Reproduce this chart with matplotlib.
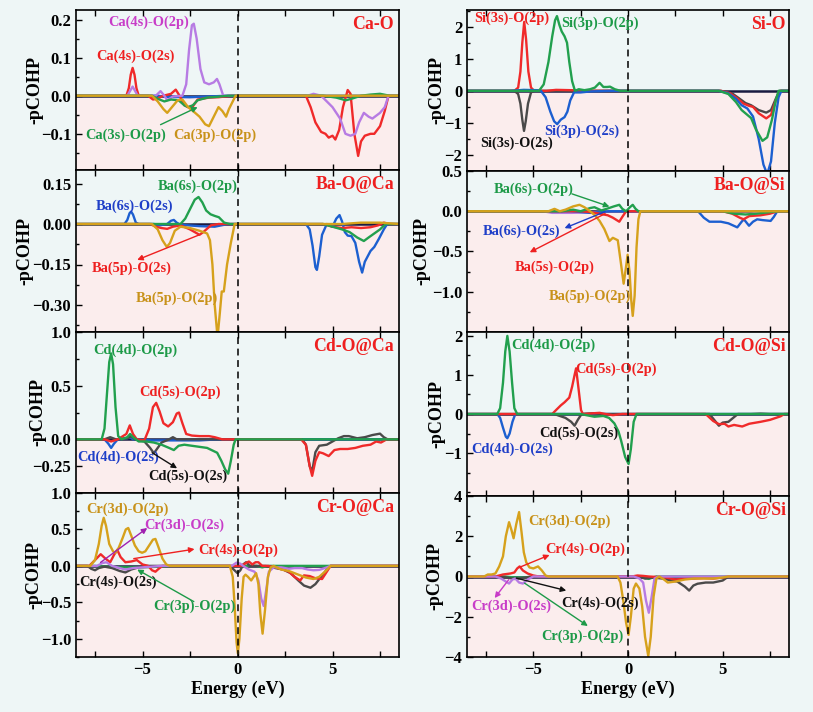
import matplotlib
matplotlib.use('Agg')
import matplotlib.pyplot as plt
from matplotlib.ticker import FixedLocator, FixedFormatter, MultipleLocator

plt.rcParams['font.family'] = ['Liberation Serif', 'DejaVu Serif']
plt.rcParams['font.weight'] = 'bold'
plt.rcParams['axes.unicode_minus'] = True

# ---------------- DATA (energy eV, -pCOHP) ----------------
# Ca-O
caO_4s_2s = [(-8.5,0),(-5.85,0),(-5.72,0.02),(-5.62,0.055),(-5.52,0.073),(-5.42,0.055),(-5.32,0.02),(-5.2,0),(-4.7,0),(-4.45,-0.01),(-4.25,-0.008),(-3.9,0),(-3.5,0.005),(-3.25,0.016),(-3.05,0),(-2.8,-0.025),(-2.6,-0.03),(-2.35,-0.028),(-2.1,-0.01),(-1.5,-0.005),(-1.0,-0.004),(-0.3,0),(3.6,0),(3.85,-0.03),(4.1,-0.07),(4.4,-0.095),(4.63,-0.1),(4.8,-0.11),(5.0,-0.105),(5.15,-0.115),(5.35,-0.09),(5.55,-0.03),(5.8,0.015),(5.95,0.005),(6.15,-0.1),(6.35,-0.158),(6.5,-0.12),(6.7,-0.105),(7.0,-0.1),(7.2,-0.1),(7.5,-0.08),(7.75,-0.04),(7.95,0),(8.5,0)]
caO_4s_2p = [(-8.5,0),(-5.8,0),(-5.52,0.024),(-5.25,0),(-4.3,0),(-4.05,0.012),(-3.85,0),(-3.7,-0.012),(-3.4,-0.002),(-2.9,0),(-2.7,0.03),(-2.55,0.12),(-2.4,0.185),(-2.3,0.189),(-2.15,0.15),(-1.95,0.07),(-1.75,0.035),(-1.5,0.03),(-1.25,0.035),(-1.08,0.044),(-0.95,0.03),(-0.75,0),(3.7,0),(4.0,0.005),(4.4,0),(5.0,-0.03),(5.4,-0.06),(5.68,-0.1),(5.95,-0.105),(6.2,-0.1),(6.4,-0.07),(6.65,-0.045),(6.9,-0.055),(7.1,-0.06),(7.5,-0.045),(7.75,-0.03),(7.95,0),(8.5,0)]
caO_3p_2p = [(-8.5,0),(-4.5,0),(-4.2,-0.015),(-3.9,-0.035),(-3.7,-0.045),(-3.45,-0.03),(-3.15,-0.012),(-2.9,-0.01),(-2.6,-0.03),(-2.3,-0.042),(-2.0,-0.055),(-1.7,-0.075),(-1.5,-0.08),(-1.3,-0.06),(-1.0,-0.03),(-0.8,-0.04),(-0.6,-0.055),(-0.45,-0.035),(-0.1,0),(8.5,0)]
caO_3s_2p = [(-8.5,0),(-4.5,0),(-4.2,-0.008),(-3.85,-0.015),(-3.5,-0.01),(-3.1,-0.012),(-2.8,-0.025),(-2.6,-0.03),(-2.35,-0.025),(-2.1,-0.012),(-1.6,-0.005),(-1.1,-0.003),(-0.5,0),(4.5,0),(5.2,-0.005),(5.7,-0.012),(6.0,-0.008),(6.5,0),(7.0,0.003),(7.5,0.005),(8.0,0),(8.5,0)]
caO_3s_2s = [(-8.5,0),(-4.2,0),(-3.8,-0.003),(-2.5,-0.004),(-1.5,-0.002),(-0.5,0),(8.5,0)]

# Si-O
siO_3s_2p = [(-8.5,0),(-6.0,0),(-5.8,0.1),(-5.68,0.6),(-5.58,1.5),(-5.48,2.15),(-5.38,1.6),(-5.26,0.6),(-5.12,0.1),(-4.95,0),(-4.3,0),(-3.8,0.03),(-3.0,0.02),(-2.5,0),(4.9,0),(5.4,-0.08),(5.8,-0.25),(6.1,-0.4),(6.4,-0.47),(6.6,-0.5),(6.9,-0.7),(7.3,-0.86),(7.55,-0.75),(7.8,-0.3),(8.05,0),(8.5,0)]
siO_3s_2s = [(-8.5,0),(-6.0,0),(-5.8,-0.1),(-5.68,-0.4),(-5.58,-0.9),(-5.49,-1.25),(-5.4,-0.95),(-5.28,-0.4),(-5.12,-0.05),(-4.95,0),(4.9,0),(5.5,-0.08),(5.9,-0.25),(6.2,-0.38),(6.5,-0.45),(6.9,-0.6),(7.3,-0.68),(7.55,-0.6),(7.8,-0.25),(8.0,0),(8.5,0)]
siO_3p_2p = [(-8.5,0),(-4.7,0),(-4.45,0.2),(-4.2,0.9),(-4.0,1.7),(-3.85,2.2),(-3.75,2.33),(-3.62,2.05),(-3.5,1.85),(-3.35,1.7),(-3.22,1.5),(-3.1,0.9),(-2.95,0.3),(-2.8,0),(-2.6,0.05),(-2.3,0.02),(-2.0,0.05),(-1.75,0.1),(-1.5,0.25),(-1.3,0.12),(-1.1,0.12),(-0.95,0.13),(-0.7,0.05),(-0.4,0),(4.8,0),(5.3,-0.1),(5.7,-0.35),(6.0,-0.6),(6.3,-0.75),(6.5,-0.85),(6.75,-1.2),(7.1,-1.56),(7.35,-1.45),(7.6,-0.9),(7.8,-0.3),(7.95,0),(8.5,0)]
siO_3p_2s = [(-8.5,0),(-6.2,0),(-5.5,0.03),(-4.8,0.02),(-4.6,0),(-4.35,-0.2),(-4.1,-0.65),(-3.9,-0.95),(-3.74,-1.04),(-3.55,-0.9),(-3.35,-0.82),(-3.2,-0.65),(-3.05,-0.3),(-2.85,-0.05),(-2.5,-0.05),(-2.0,-0.02),(-1.0,0),(4.8,0),(5.3,-0.08),(5.7,-0.25),(6.0,-0.45),(6.3,-0.55),(6.6,-0.8),(6.9,-1.5),(7.15,-2.3),(7.35,-2.6),(7.55,-2.2),(7.75,-1.0),(7.95,-0.2),(8.1,0),(8.5,0)]

# Ba-O@Ca
baCa_6s_2s = [(-8.5,0),(-5.95,0),(-5.8,0.015),(-5.68,0.04),(-5.6,0.046),(-5.5,0.035),(-5.35,0.005),(-5.2,0),(-4.4,0),(-4.1,-0.005),(-3.7,0),(-3.5,0.012),(-3.35,0.015),(-3.2,0.005),(-3.0,-0.003),(-2.0,-0.008),(-1.2,-0.01),(-0.5,0),(3.6,0),(3.8,-0.02),(3.95,-0.08),(4.1,-0.16),(4.18,-0.17),(4.3,-0.12),(4.45,-0.04),(4.7,0),(5.0,-0.01),(5.2,0.02),(5.37,0.033),(5.5,0.01),(5.65,-0.03),(5.8,-0.043),(6.0,-0.045),(6.2,-0.07),(6.4,-0.14),(6.56,-0.18),(6.7,-0.14),(7.0,-0.1),(7.2,-0.085),(7.44,-0.055),(7.7,-0.02),(7.88,0),(8.5,0)]
baCa_6s_2p = [(-8.5,0),(-3.0,0),(-2.75,0.02),(-2.5,0.055),(-2.25,0.09),(-2.05,0.1),(-1.85,0.08),(-1.65,0.05),(-1.42,0.036),(-1.2,0.03),(-0.98,0.025),(-0.7,0.005),(-0.4,0),(4.5,0),(5.0,-0.01),(5.5,-0.02),(5.9,-0.03),(6.3,-0.05),(6.65,-0.063),(6.9,-0.05),(7.2,-0.035),(7.5,-0.02),(7.8,0),(8.5,0)]
baCa_5p_2s = [(-8.5,0),(-4.6,0),(-4.3,-0.01),(-4.0,-0.015),(-3.7,-0.018),(-3.4,-0.01),(-3.0,-0.005),(-2.5,-0.02),(-2.0,-0.04),(-1.8,-0.03),(-1.4,-0.005),(-1.0,0),(4.5,0),(5.0,-0.01),(5.5,-0.015),(6.0,-0.012),(6.5,-0.015),(7.0,-0.012),(7.4,-0.005),(7.7,0.005),(8.0,0),(8.5,0)]
baCa_5p_2p = [(-8.5,0),(-4.5,0),(-4.2,-0.02),(-3.95,-0.06),(-3.72,-0.085),(-3.55,-0.07),(-3.3,-0.025),(-3.0,-0.01),(-2.5,-0.015),(-2.0,-0.025),(-1.6,-0.035),(-1.45,-0.06),(-1.32,-0.15),(-1.2,-0.3),(-1.05,-0.42),(-0.93,-0.33),(-0.83,-0.25),(-0.72,-0.25),(-0.55,-0.15),(-0.35,-0.07),(-0.15,0),(5.5,0),(6.5,0.005),(7.5,0.005),(8.5,0)]

# Ba-O@Si
baSi_5p_2p = [(-8.5,0),(-4.2,0),(-3.88,0.03),(-3.6,0.0),(-3.3,0.02),(-2.9,0.06),(-2.56,0.08),(-2.3,0.05),(-2.0,0.0),(-1.75,-0.05),(-1.5,-0.12),(-1.25,-0.22),(-0.98,-0.37),(-0.8,-0.33),(-0.54,-0.36),(-0.4,-0.6),(-0.23,-0.9),(-0.12,-0.72),(-0.02,-0.54),(0.08,-0.75),(0.17,-1.1),(0.25,-1.3),(0.35,-1.05),(0.45,-0.45),(0.55,-0.1),(0.65,0),(6.0,0),(8.5,0)]
baSi_6s_2p = [(-8.5,0),(-3.5,0),(-2.9,0.02),(-2.5,0.0),(-2.0,0.04),(-1.77,0.05),(-1.4,0.01),(-1.0,0.04),(-0.75,0.06),(-0.46,0.08),(-0.3,0.03),(-0.1,0),(0.1,0.05),(0.25,0.08),(0.4,0.03),(0.55,0),(5.0,0),(5.6,-0.03),(6.2,-0.04),(6.8,-0.03),(7.5,-0.01),(8.0,0),(8.5,0)]
baSi_5s_2p = [(-8.5,0),(-2.5,0),(-2.0,-0.01),(-1.5,-0.03),(-1.07,-0.05),(-0.8,-0.08),(-0.46,-0.13),(-0.3,-0.07),(-0.1,0),(5.0,0),(5.5,-0.03),(5.9,-0.08),(6.1,-0.1),(6.4,-0.06),(7.0,-0.05),(7.5,-0.03),(7.9,0),(8.5,0)]
baSi_6s_2s = [(-8.5,0),(-3.0,0),(-2.5,-0.01),(-2.0,-0.02),(-1.5,-0.01),(-1.0,0),(3.7,0),(4.0,-0.08),(4.3,-0.13),(4.9,-0.13),(5.3,-0.15),(5.77,-0.2),(6.0,-0.13),(6.12,-0.1),(6.39,-0.18),(6.6,-0.13),(6.82,-0.1),(7.1,-0.11),(7.53,-0.12),(7.7,-0.07),(7.88,0),(8.5,0)]
baSi_other = [(-8.5,0),(-4.5,0),(-4.0,-0.02),(-3.0,-0.02),(-2.0,-0.015),(-1.0,0),(6.5,0),(7.0,-0.02),(7.5,-0.015),(8.0,0),(8.5,0)]

# Cd-O@Ca
cdCa_4d_2p = [(-8.5,0),(-7.15,0),(-7.0,0.1),(-6.88,0.4),(-6.75,0.72),(-6.65,0.8),(-6.55,0.7),(-6.42,0.3),(-6.28,0.03),(-6.1,0),(-5.8,0.02),(-5.65,0.05),(-5.5,0.02),(-5.2,-0.02),(-4.8,-0.02),(-4.4,-0.03),(-4.0,-0.05),(-3.6,-0.08),(-3.35,-0.1),(-3.1,-0.06),(-2.8,-0.05),(-2.4,-0.06),(-2.0,-0.07),(-1.6,-0.08),(-1.07,-0.125),(-0.85,-0.2),(-0.65,-0.28),(-0.49,-0.32),(-0.35,-0.2),(-0.2,-0.05),(-0.1,0),(8.5,0)]
cdCa_5s_2p = [(-8.5,0),(-7.0,0),(-6.65,-0.02),(-6.3,0),(-5.85,0.05),(-5.67,0.13),(-5.5,0.05),(-5.3,0),(-4.9,-0.01),(-4.65,0.1),(-4.45,0.3),(-4.28,0.34),(-4.1,0.26),(-3.9,0.15),(-3.65,0.12),(-3.4,0.16),(-3.2,0.24),(-3.08,0.25),(-2.9,0.15),(-2.7,0.05),(-2.4,0.035),(-2.0,0.03),(-1.5,0.03),(-1.2,0.02),(-0.8,0),(3.35,0),(3.6,-0.05),(3.8,-0.25),(3.93,-0.34),(4.1,-0.2),(4.3,-0.12),(4.5,-0.13),(4.8,-0.156),(5.1,-0.1),(5.4,-0.09),(5.8,-0.09),(6.2,-0.08),(6.6,-0.06),(7.0,-0.05),(7.3,-0.02),(7.55,-0.03),(7.85,0),(8.5,0)]
cdCa_5s_2s = [(-8.5,0),(-7.0,0),(-6.7,0.02),(-6.4,0),(-5.8,0.01),(-5.6,0.03),(-5.4,0),(-4.9,-0.02),(-4.6,-0.08),(-4.4,-0.13),(-4.2,-0.08),(-4.0,-0.03),(-3.6,0.0),(-3.4,0.02),(-3.2,0),(-2.5,0),(3.4,0),(3.6,-0.05),(3.8,-0.25),(3.93,-0.3),(4.1,-0.12),(4.3,-0.06),(4.7,-0.05),(5.0,-0.02),(5.3,0.01),(5.6,0.03),(5.86,0.03),(6.3,0.01),(6.7,0.02),(7.1,0.04),(7.5,0.053),(7.7,0.02),(7.9,0),(8.5,0)]
cdCa_4d_2s = [(-8.5,0),(-7.0,0),(-6.8,-0.04),(-6.65,-0.08),(-6.5,-0.04),(-6.3,0),(-5.8,0.01),(-5.65,0.02),(-5.5,0),(-4.5,-0.01),(-2.0,-0.01),(-1.0,0),(8.5,0)]

# Cd-O@Si
cdSi_4d_2p = [(-8.5,0),(-6.9,0),(-6.75,0.15),(-6.6,0.8),(-6.48,1.6),(-6.37,2.0),(-6.25,1.6),(-6.12,0.8),(-6.0,0.15),(-5.85,0),(-2.5,0),(-2.2,-0.03),(-1.77,-0.07),(-1.3,-0.05),(-1.0,-0.1),(-0.72,-0.24),(-0.5,-0.45),(-0.37,-0.67),(-0.15,-1.1),(0.03,-1.28),(0.15,-0.9),(0.3,-0.2),(0.45,0),(8.5,0)]
cdSi_4d_2s = [(-8.5,0),(-6.9,0),(-6.75,-0.1),(-6.6,-0.35),(-6.45,-0.58),(-6.37,-0.62),(-6.25,-0.5),(-6.1,-0.2),(-5.95,0),(8.5,0)]
cdSi_5s_2p = [(-8.5,0),(-4.0,0),(-3.8,0.1),(-3.55,0.22),(-3.35,0.3),(-3.1,0.42),(-2.95,0.7),(-2.82,1.0),(-2.74,1.17),(-2.6,0.6),(-2.48,0.1),(-2.38,0),(-1.8,0.02),(-1.5,0.03),(-1.2,0),(-0.8,-0.03),(-0.3,0),(4.1,0),(4.5,-0.18),(4.8,-0.26),(5.1,-0.25),(5.3,-0.32),(5.6,-0.28),(6.03,-0.32),(6.4,-0.25),(7.0,-0.2),(7.5,-0.15),(8.05,-0.06),(8.25,0),(8.5,0)]
cdSi_5s_2s = [(-8.5,0),(-3.9,0),(-3.6,-0.05),(-3.3,-0.1),(-3.0,-0.2),(-2.82,-0.3),(-2.65,-0.15),(-2.45,0),(-1.8,0.02),(-1.5,0),(4.3,0),(4.55,-0.15),(4.8,-0.3),(5.0,-0.22),(5.3,-0.2),(5.55,-0.1),(5.8,0),(6.5,0),(7.0,0.01),(7.5,0),(8.5,0)]

# Cr-O@Ca
crCa_3d_2p = [(-8.5,0),(-7.75,0),(-7.5,0.08),(-7.3,0.3),(-7.15,0.55),(-7.04,0.66),(-6.92,0.55),(-6.75,0.3),(-6.55,0.2),(-6.42,0.18),(-6.25,0.25),(-6.05,0.38),(-5.88,0.5),(-5.75,0.52),(-5.6,0.42),(-5.4,0.28),(-5.2,0.2),(-5.02,0.18),(-4.85,0.2),(-4.65,0.28),(-4.45,0.36),(-4.32,0.37),(-4.15,0.25),(-3.95,0.1),(-3.75,0.02),(-3.55,0),(-0.4,0),(-0.25,-0.15),(-0.15,-0.55),(-0.05,-1.05),(0.02,-1.2),(0.1,-1.0),(0.22,-0.45),(0.32,-0.15),(0.42,-0.12),(0.55,-0.15),(0.72,-0.2),(0.85,-0.15),(0.98,-0.1),(1.1,-0.25),(1.2,-0.65),(1.32,-0.93),(1.45,-0.6),(1.6,-0.15),(1.75,-0.02),(1.9,0),(2.3,-0.05),(2.7,-0.07),(3.0,-0.1),(3.3,-0.13),(3.6,-0.16),(4.0,-0.18),(4.3,-0.15),(4.6,-0.08),(4.9,0),(8.5,0)]
crCa_4s_2p = [(-8.5,0),(-7.8,0),(-7.5,0.08),(-7.2,0.16),(-6.95,0.1),(-6.7,0.05),(-6.5,0.15),(-6.33,0.22),(-6.15,0.12),(-5.9,0.05),(-5.6,0.06),(-5.3,0.08),(-5.0,0.02),(-4.7,0),(-4.5,-0.06),(-4.32,-0.08),(-4.15,-0.04),(-3.95,0),(0.2,0),(0.45,0.04),(0.6,0.06),(0.78,0.02),(0.95,0.05),(1.1,0.05),(1.3,0.0),(1.6,0),(2.0,-0.02),(2.4,-0.05),(2.7,-0.08),(3.0,-0.15),(3.3,-0.2),(3.5,-0.13),(3.8,-0.14),(4.1,-0.17),(4.45,-0.18),(4.7,-0.08),(4.9,0),(8.5,0)]
crCa_3d_2s = [(-8.5,0),(-7.4,0),(-7.1,0.04),(-6.9,0.05),(-6.6,0.0),(-6.2,-0.03),(-5.9,-0.05),(-5.5,-0.03),(-5.0,-0.02),(-4.5,-0.01),(-4.0,0),(-0.3,0),(-0.05,0.045),(0.15,0.03),(0.3,0),(0.6,-0.05),(0.9,-0.08),(1.1,-0.2),(1.25,-0.45),(1.38,-0.55),(1.5,-0.35),(1.65,-0.08),(1.9,-0.02),(2.3,-0.02),(2.7,-0.04),(3.0,-0.03),(3.4,-0.03),(3.7,-0.05),(4.0,-0.06),(4.3,-0.055),(4.6,-0.03),(4.9,0),(8.5,0)]
crCa_4s_2s = [(-8.5,0),(-7.9,0),(-7.7,-0.04),(-7.5,-0.06),(-7.3,-0.03),(-7.0,-0.01),(-6.6,-0.03),(-6.2,-0.07),(-5.9,-0.09),(-5.6,-0.05),(-5.2,-0.02),(-4.8,0),(-0.4,0),(-0.2,-0.05),(0.0,-0.1),(0.15,-0.06),(0.3,0.02),(0.45,0.05),(0.65,0.0),(1.0,0),(1.5,0),(2.0,-0.03),(2.4,-0.05),(2.8,-0.1),(3.2,-0.2),(3.5,-0.27),(3.84,-0.3),(4.1,-0.25),(4.4,-0.15),(4.7,-0.05),(4.9,0),(8.5,0)]
crCa_3p_2p = [(-8.5,0),(-7.5,0),(-7.0,-0.01),(-6.0,-0.02),(-5.0,-0.02),(-4.0,-0.01),(-3.5,0),(1.0,0),(1.3,-0.02),(1.6,0),(8.5,0)]

# Cr-O@Si
crSi_3d_2p = [(-8.5,0),(-7.6,0),(-7.4,0.1),(-7.2,0.1),(-7.0,0.15),(-6.8,0.5),(-6.6,1.0),(-6.45,2.0),(-6.28,2.7),(-6.15,2.3),(-6.04,1.9),(-5.9,2.6),(-5.75,3.2),(-5.62,2.2),(-5.5,1.2),(-5.37,0.7),(-5.2,0.45),(-5.0,0.4),(-4.75,0.5),(-4.55,0.3),(-4.35,0.05),(-4.2,0),(-0.55,0),(-0.4,-0.3),(-0.25,-1.2),(-0.1,-2.3),(0.03,-2.9),(0.15,-2.0),(0.3,-0.6),(0.42,-0.35),(0.6,-0.6),(0.75,-1.5),(0.9,-3.0),(1.07,-3.95),(1.2,-3.0),(1.35,-1.0),(1.5,-0.1),(1.65,0),(1.9,-0.15),(2.1,-0.3),(2.5,-0.25),(3.0,-0.15),(3.5,-0.1),(4.0,-0.1),(4.5,-0.1),(5.0,-0.05),(5.3,0),(8.5,0)]
crSi_4s_2p = [(-8.5,0),(-7.0,0),(-6.6,0.1),(-6.2,0.15),(-6.0,0.2),(-5.85,0.4),(-5.72,0.5),(-5.55,0.3),(-5.3,0.15),(-5.0,0.05),(-4.7,0),(0.2,0),(0.5,0.05),(0.8,0.03),(1.1,0),(2.0,-0.05),(2.5,-0.15),(3.0,-0.1),(3.5,-0.1),(4.0,-0.08),(4.5,-0.1),(5.0,-0.05),(5.3,0),(8.5,0)]
crSi_3d_2s = [(-8.5,0),(-7.0,0),(-6.7,-0.1),(-6.45,-0.25),(-6.28,-0.35),(-6.1,-0.15),(-5.95,-0.1),(-5.75,-0.3),(-5.55,-0.35),(-5.3,-0.15),(-5.0,0),(0.3,0),(0.6,-0.1),(0.8,-0.3),(0.95,-1.2),(1.1,-1.8),(1.25,-1.0),(1.4,-0.1),(1.6,0),(8.5,0)]
crSi_4s_2s = [(-8.5,0),(-6.8,0),(-6.4,-0.05),(-6.0,-0.12),(-5.6,-0.08),(-5.2,-0.02),(-4.8,0),(0.5,0),(0.9,-0.1),(1.3,-0.05),(1.8,-0.1),(2.3,-0.2),(2.6,-0.25),(3.0,-0.5),(3.23,-0.7),(3.45,-0.45),(3.67,-0.36),(4.1,-0.3),(4.5,-0.3),(5.0,-0.2),(5.3,0),(8.5,0)]
crSi_3p_2p = [(-8.5,0),(-6.5,0),(-6.0,-0.05),(-5.5,-0.05),(-5.0,0),(0.7,0),(0.9,-0.08),(1.1,-0.12),(1.3,-0.05),(1.5,0),(8.5,0)]

# panel names, axis ranges and tick labels
panel_names = ['Ca-O', 'Si-O', 'Ba-O@Ca', 'Ba-O@Si', 'Cd-O@Ca', 'Cd-O@Si', 'Cr-O@Ca', 'Cr-O@Si']
ylims = [(-0.195, 0.225), (-2.5, 2.52), (-0.4, 0.2), (-1.5, 0.5),
         (-0.5, 1.0), (-2.1, 2.1), (-1.25, 1.0), (-4, 4)]
yticks = [[0.2, 0.1, 0.0, -0.1], [2, 1, 0, -1, -2], [0.15, 0.0, -0.15, -0.30], [0.5, 0.0, -0.5, -1.0],
          [1.0, 0.5, 0.0, -0.25], [2, 1, 0, -1], [1.0, 0.5, 0.0, -0.5, -1.0], [4, 2, 0, -2, -4]]
yticklabels = [['0.2', '0.1', '0.0', '\u22120.1'], ['2', '1', '0', '\u22121', '\u22122'],
               ['0.15', '0.00', '\u22120.15', '\u22120.30'], ['0.5', '0.0', '\u22120.5', '\u22121.0'],
               ['1.0', '0.5', '0.0', '\u22120.25'], ['2', '1', '0', '\u22121'],
               ['1.0', '0.5', '0.0', '\u22120.5', '\u22121.0'], ['4', '2', '0', '\u22122', '\u22124']]
yminor = [0.05, 0.5, 0.075, 0.25, 0.25, 0.5, 0.25, 1.0]
xticks = [-5, 0, 5]
xticklabels = ['\u22125', '0', '5']

# ---------------- STYLE ----------------
RED = '#f02a2a'; GREEN = '#22a04e'; BLUE = '#1c5fd0'; GOLD = '#d6a11c'
PURPLE = '#b77be3'; BLACK = '#4a4a4a'; MAG = '#c83cc8'
T_RED = '#ee2020'; T_GREEN = '#1d9a48'; T_BLUE = '#1f3fc8'; T_GOLD = '#c8921a'; T_BLK = '#111111'
BG = '#eef6f6'; PINK = '#fbeded'

curves = [
    [(caO_3s_2s, BLUE), (caO_4s_2s, RED), (caO_4s_2p, PURPLE), (caO_3s_2p, GREEN), (caO_3p_2p, GOLD)],
    [(siO_3s_2s, BLACK), (siO_3s_2p, RED), (siO_3p_2s, BLUE), (siO_3p_2p, GREEN)],
    [(baCa_6s_2s, BLUE), (baCa_5p_2s, RED), (baCa_6s_2p, GREEN), (baCa_5p_2p, GOLD)],
    [(baSi_other, PURPLE), (baSi_6s_2s, BLUE), (baSi_5s_2p, RED), (baSi_6s_2p, GREEN), (baSi_5p_2p, GOLD)],
    [(cdCa_4d_2s, BLUE), (cdCa_5s_2s, BLACK), (cdCa_5s_2p, RED), (cdCa_4d_2p, GREEN)],
    [(cdSi_4d_2s, BLUE), (cdSi_5s_2s, BLACK), (cdSi_5s_2p, RED), (cdSi_4d_2p, GREEN)],
    [(crCa_3p_2p, GREEN), (crCa_4s_2s, BLACK), (crCa_4s_2p, RED), (crCa_3d_2s, PURPLE), (crCa_3d_2p, GOLD)],
    [(crSi_3p_2p, GREEN), (crSi_4s_2s, BLACK), (crSi_4s_2p, RED), (crSi_3d_2s, PURPLE), (crSi_3d_2p, GOLD)],
]

labels = [
    [('Ca(4s)-O(2p)', -4.66, 0.192, MAG), ('Ca(4s)-O(2s)', -5.37, 0.103, T_RED),
     ('Ca(3s)-O(2p)', -5.87, -0.105, T_GREEN), ('Ca(3p)-O(2p)', -1.22, -0.105, T_GOLD)],
    [('Si(3s)-O(2p)', -6.16, 2.25, T_RED), ('Si(3p)-O(2p)', -1.47, 2.12, T_GREEN),
     ('Si(3s)-O(2s)', -5.9, -1.63, T_BLK), ('Si(3p)-O(2s)', -2.42, -1.25, T_BLUE)],
    [('Ba(6s)-O(2p)', -2.1, 0.141, T_GREEN), ('Ba(6s)-O(2s)', -5.42, 0.067, T_BLUE),
     ('Ba(5p)-O(2s)', -5.58, -0.164, T_RED), ('Ba(5p)-O(2p)', -3.2, -0.275, T_GOLD)],
    [('Ba(6s)-O(2p)', -5.0, 0.27, T_GREEN), ('Ba(6s)-O(2s)', -5.63, -0.25, T_BLUE),
     ('Ba(5s)-O(2p)', -3.85, -0.70, T_RED), ('Ba(5p)-O(2p)', -2.0, -1.05, T_GOLD)],
    [('Cd(4d)-O(2p)', -5.37, 0.83, T_GREEN), ('Cd(5s)-O(2p)', -3.05, 0.44, T_RED),
     ('Cd(4d)-O(2s)', -6.3, -0.17, T_BLUE), ('Cd(5s)-O(2s)', -2.64, -0.34, T_BLK)],
    [('Cd(4d)-O(2p)', -3.95, 1.77, T_GREEN), ('Cd(5s)-O(2p)', -0.63, 1.15, T_RED),
     ('Cd(5s)-O(2s)', -2.6, -0.5, T_BLK), ('Cd(4d)-O(2s)', -6.1, -0.9, T_BLUE)],
    [('Cr(3d)-O(2p)', -5.79, 0.78, T_GOLD), ('Cr(3d)-O(2s)', -2.82, 0.56, MAG),
     ('Cr(4s)-O(2p)', 0.05, 0.22, T_RED), ('Cr(4s)-O(2s)', -6.3, -0.22, T_BLK),
     ('Cr(3p)-O(2p)', -2.28, -0.56, T_GREEN)],
    [('Cr(3d)-O(2p)', -3.1, 2.74, T_GOLD), ('Cr(4s)-O(2p)', -2.27, 1.36, T_RED),
     ('Cr(3d)-O(2s)', -6.16, -1.48, MAG), ('Cr(4s)-O(2s)', -1.47, -1.34, T_BLK),
     ('Cr(3p)-O(2p)', -2.42, -2.95, T_GREEN)],
]

# arrows: (tail, head, colour)
arrows = [
    [((-4.05, -0.076), (-2.1, -0.03), T_GREEN)],
    [],
    [((-2.04, -0.041), (-5.28, -0.133), T_RED)],
    [((-2.96, 0.216), (-0.98, 0.058), T_GREEN), ((-1.21, -0.005), (-3.35, -0.21), T_BLUE),
     ((-1.21, -0.03), (-5.19, -0.51), T_RED)],
    [((-4.49, -0.125), (-3.18, -0.27), T_BLK)],
    [],
    [((-7.21, 0.047), (-4.75, 0.52), '#a020b0'), ((-5.46, 0.1), (-2.26, 0.23), T_RED),
     ((-2.3, -0.49), (-5.28, -0.05), T_GREEN)],
    [((-5.72, 0.46), (-4.14, 1.07), T_RED), ((-6.3, -0.16), (-7.04, -1.07), MAG),
     ((-5.9, -0.08), (-3.26, -0.7), T_BLK), ((-5.46, -0.33), (-2.12, -2.46), T_GREEN)],
]

# ---------------- FIGURE ----------------
W, H = 813, 712
fig = plt.figure(figsize=(W / 100, H / 100), dpi=100, facecolor=BG)
col_x = [(76, 399), (467, 789)]
row_y = [[(10, 170), (170, 332), (332, 493), (493, 657)],
         [(10, 171), (171, 332), (332, 496), (496, 657)]]
ylab_px = [43, 445, 33, 430, 46, 445, 42, 443]   # right edge of the rotated y label
title_x = [0.985, 0.99]

for i, name in enumerate(panel_names):
    col, row = i % 2, i // 2
    x0, x1 = col_x[col]
    y0, y1 = row_y[col][row]
    ax = fig.add_axes([x0 / W, 1 - y1 / H, (x1 - x0) / W, (y1 - y0) / H])
    ax.set_facecolor(BG)
    ymin, ymax = ylims[i]
    ax.set_xlim(-8.5, 8.5)
    ax.set_ylim(ymin, ymax)
    ax.axhspan(ymin, 0, color=PINK, zorder=0, lw=0)
    ax.axhline(0, color='#1a1a40', lw=1.8, zorder=1)
    for data, c in curves[i]:
        xs = [p[0] for p in data]
        ys = [p[1] for p in data]
        ax.plot(xs, ys, color=c, lw=1.7, solid_joinstyle='round', zorder=2)
    ax.axvline(0, color='black', lw=1.1, ls=(0, (4.5, 3)), zorder=3)
    for txt, tx, ty, c in labels[i]:
        ax.text(tx, ty, txt, color=c, fontsize=10.4, fontweight='bold', ha='center', va='center', zorder=5)
    for tail, head, c in arrows[i]:
        ax.annotate('', xy=head, xytext=tail,
                    arrowprops=dict(arrowstyle='-|>', color=c, lw=1.0, mutation_scale=8,
                                    shrinkA=0, shrinkB=0), zorder=5)
    ax.text(title_x[col], 0.91, name, transform=ax.transAxes, color=T_RED, fontsize=12.8,
            fontweight='bold', ha='right', va='center', zorder=5)
    ax.yaxis.set_major_locator(FixedLocator(yticks[i]))
    ax.yaxis.set_major_formatter(FixedFormatter(yticklabels[i]))
    ax.yaxis.set_minor_locator(MultipleLocator(yminor[i]))
    ax.xaxis.set_major_locator(FixedLocator(xticks))
    ax.xaxis.set_minor_locator(MultipleLocator(2.5))
    ax.tick_params(axis='both', which='both', direction='in', top=True, right=False,
                   labelsize=12, width=1.0)
    ax.tick_params(axis='both', which='major', length=4)
    ax.tick_params(axis='x', which='minor', length=4)
    ax.tick_params(axis='y', which='minor', length=2.5)
    if row == 3:
        ax.set_xticklabels(xticklabels)
        ax.set_xlabel('Energy (eV)', fontsize=13, fontweight='bold', labelpad=2)
    else:
        ax.tick_params(axis='x', labelbottom=False)
    ax.set_ylabel('-pCOHP', fontsize=13, fontweight='bold')
    ax.yaxis.set_label_coords((ylab_px[i] - x0) / (x1 - x0), 0.5)
    for s in ax.spines.values():
        s.set_linewidth(1.2)
        s.set_color('black')
        s.set_zorder(6)

fig.savefig('out.png', dpi=100, facecolor=BG)
